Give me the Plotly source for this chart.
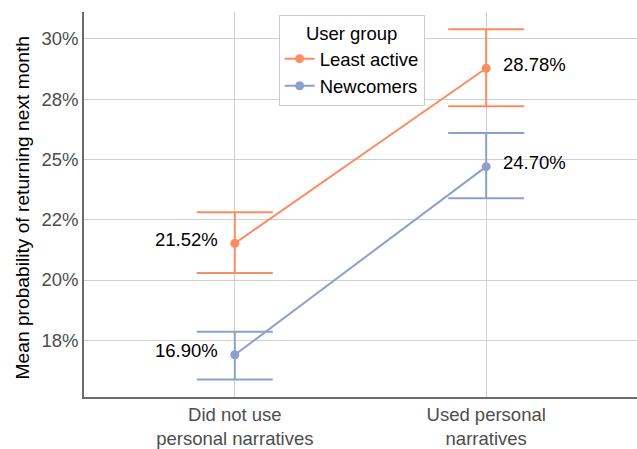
import plotly.graph_objects as go

categories = ["Did not use<br>personal narratives", "Used personal<br>narratives"]
groups = ["Least active", "Newcomers"]
colors = {"Least active": "#FC8D62", "Newcomers": "#8DA0CB"}

least_active = [21.52, 28.78]
least_active_hi = [22.81, 30.40]
least_active_lo = [20.29, 27.20]

newcomers = [16.90, 24.70]
newcomers_hi = [17.86, 26.09]
newcomers_lo = [15.88, 23.39]

tick_vals = [17.5, 20, 22.5, 25, 27.5, 30]
tick_text = ["18%", "20%", "22%", "25%", "28%", "30%"]

FONT = "Liberation Sans, Arial, Helvetica, sans-serif"
FS = 18.5

series = {
    "Least active": (least_active, least_active_hi, least_active_lo),
    "Newcomers": (newcomers, newcomers_hi, newcomers_lo),
}

fig = go.Figure()
xs = [0, 1]
for g in groups:
    vals, hi, lo = series[g]
    fig.add_trace(go.Scatter(
        x=xs, y=vals, name=g, mode="lines+markers",
        line=dict(color=colors[g], width=2),
        marker=dict(color=colors[g], size=9),
        error_y=dict(type="data", symmetric=False,
                     array=[h - v for h, v in zip(hi, vals)],
                     arrayminus=[v - l for v, l in zip(vals, lo)],
                     color=colors[g], thickness=2, width=38),
    ))

annotations = []
for g in groups:
    vals = series[g][0]
    annotations.append(dict(x=xs[0], y=vals[0], xref="x", yref="y",
                            text=f"{vals[0]:.2f}%", showarrow=False,
                            xanchor="right", yanchor="middle", xshift=-15, yshift=4,
                            font=dict(family=FONT, size=FS, color="black")))
    annotations.append(dict(x=xs[1], y=vals[1], xref="x", yref="y",
                            text=f"{vals[1]:.2f}%", showarrow=False,
                            xanchor="left", yanchor="middle", xshift=15, yshift=4,
                            font=dict(family=FONT, size=FS, color="black")))

annotations.append(dict(x=-0.112, y=0.49, xref="paper", yref="paper",
                        text="Mean probability of returning next month",
                        textangle=-90, showarrow=False, xanchor="center", yanchor="middle",
                        font=dict(family=FONT, size=19.2, color="black")))

fig.update_layout(
    width=637, height=449,
    margin=dict(l=84, r=0, t=12, b=48),
    paper_bgcolor="white", plot_bgcolor="white",
    font=dict(family=FONT, size=FS, color="#4d4d4d"),
    showlegend=True,
    legend=dict(
        title=dict(text="User group", side="top center",
                   font=dict(family=FONT, size=FS, color="black")),
        font=dict(family=FONT, size=FS, color="black"),
        x=0.484, y=0.992, xanchor="center", yanchor="top",
        bgcolor="white", bordercolor="#cccccc", borderwidth=1,
        itemwidth=30, tracegroupgap=0,
    ),
    xaxis=dict(
        range=[-0.6, 1.6], tickvals=xs, ticktext=categories,
        showgrid=True, gridcolor="#cfcfcf", gridwidth=1,
        showline=True, linecolor="#6b6b6b", linewidth=1.5,
        ticks="", zeroline=False,
        tickfont=dict(family=FONT, size=FS, color="#4d4d4d"),
    ),
    yaxis=dict(
        range=[15.15, 31.11], tickvals=tick_vals, ticktext=tick_text,
        showgrid=True, gridcolor="#cfcfcf", gridwidth=1,
        showline=True, linecolor="#6b6b6b", linewidth=1.5,
        ticks="", zeroline=False,
        tickfont=dict(family=FONT, size=FS, color="#4d4d4d"),
    ),
    annotations=annotations,
)

fig.write_html("out.html")
